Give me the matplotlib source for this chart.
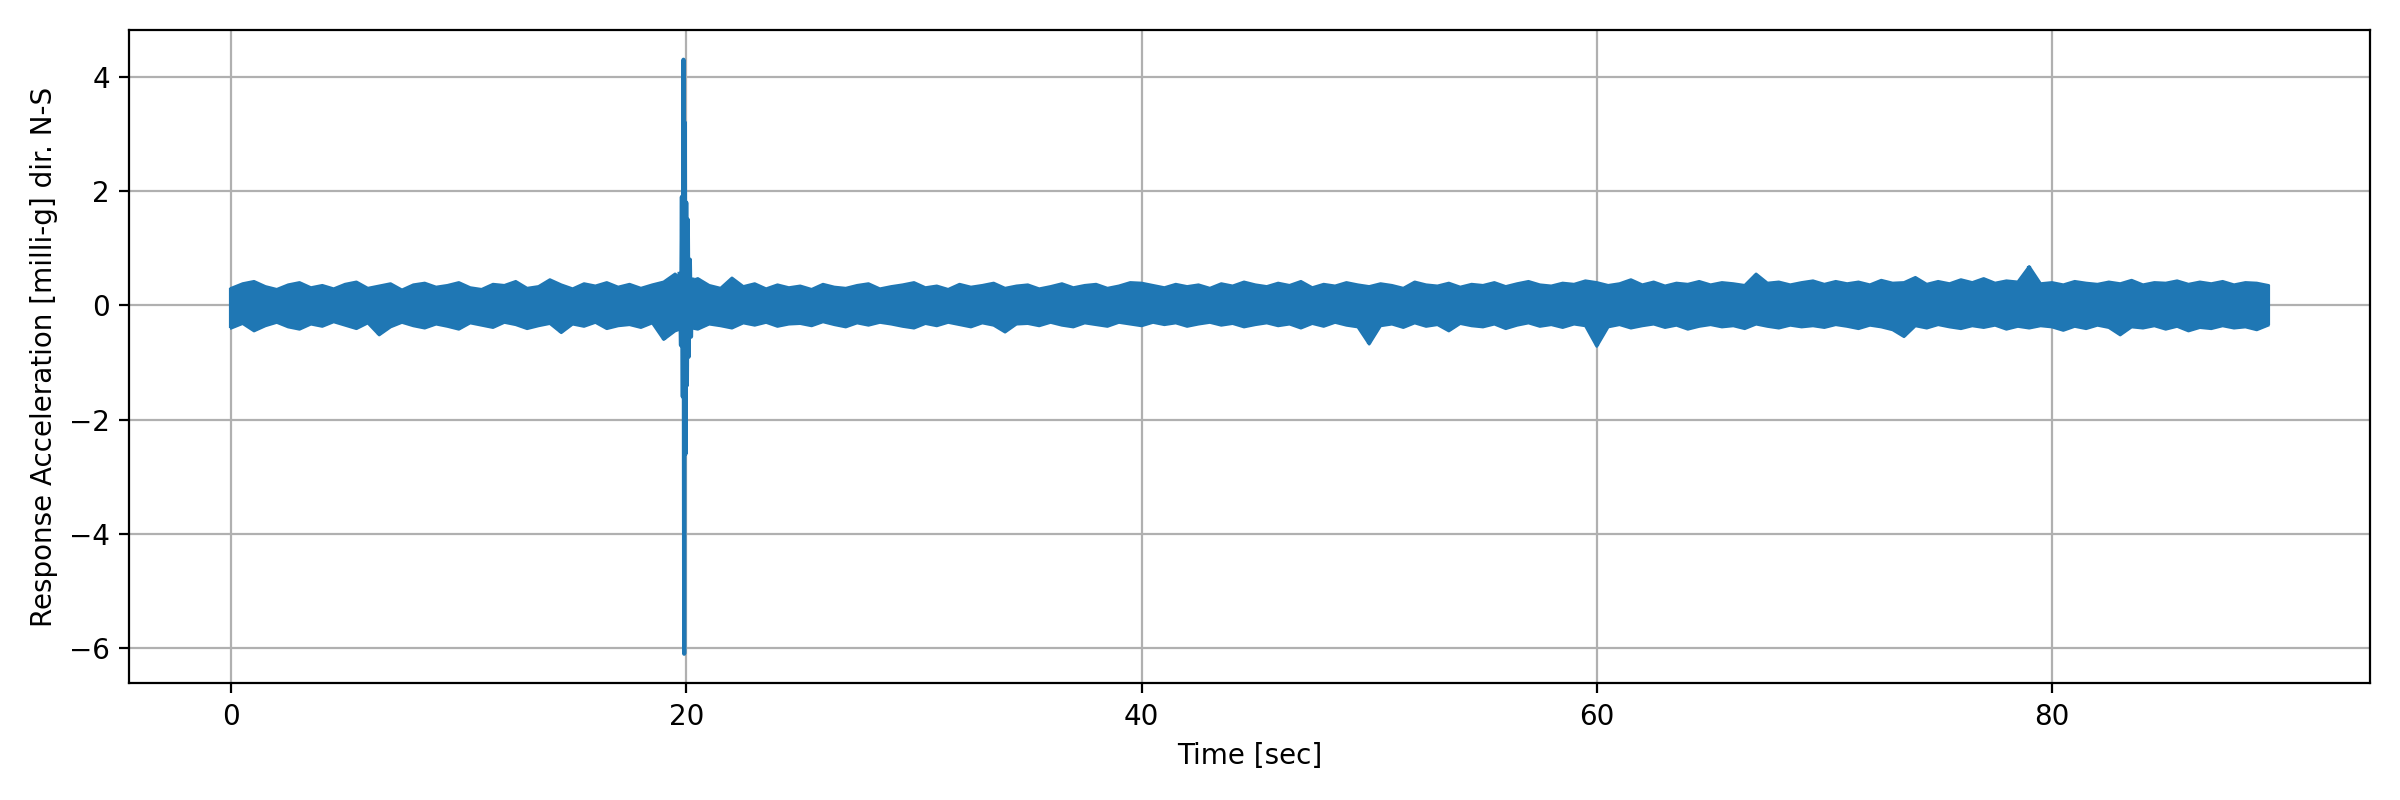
import numpy as np
import matplotlib.pyplot as plt

# upper and lower swings of the noise band, one pair every ~0.5 s from 0 to 89.5 s
highs = [
    0.30, 0.38, 0.42, 0.33, 0.28, 0.36, 0.40, 0.31, 0.35, 0.29,
    0.37, 0.41, 0.30, 0.34, 0.38, 0.27, 0.36, 0.39, 0.32, 0.35,
    0.40, 0.31, 0.28, 0.37, 0.35, 0.42, 0.30, 0.33, 0.45, 0.36,
    0.29, 0.38, 0.34, 0.40, 0.32, 0.37, 0.30, 0.36, 0.41, 0.55,
    0.40, 0.47, 0.35, 0.30, 0.48, 0.33, 0.38, 0.29, 0.36, 0.31,
    0.34, 0.28, 0.37, 0.32, 0.30, 0.35, 0.38, 0.29, 0.33, 0.36,
    0.40, 0.31, 0.34, 0.28, 0.37, 0.32, 0.35, 0.39, 0.30, 0.34,
    0.36, 0.29, 0.33, 0.38, 0.31, 0.35, 0.37, 0.30, 0.34, 0.40,
    0.39, 0.35, 0.31, 0.37, 0.33, 0.36, 0.30, 0.38, 0.34, 0.41,
    0.36, 0.33, 0.39, 0.35, 0.42, 0.31, 0.37, 0.34, 0.40, 0.36,
    0.33, 0.38, 0.35, 0.30, 0.41, 0.36, 0.34, 0.39, 0.32, 0.37,
    0.35, 0.40, 0.33, 0.38, 0.42, 0.36, 0.34, 0.39, 0.37, 0.43,
    0.40, 0.35, 0.38, 0.45, 0.36, 0.41, 0.34, 0.39, 0.37, 0.42,
    0.36, 0.40, 0.38, 0.35, 0.55, 0.39, 0.41, 0.36, 0.40, 0.43,
    0.37, 0.42, 0.38, 0.41, 0.36, 0.44, 0.39, 0.40, 0.49, 0.37,
    0.42, 0.38, 0.45, 0.40, 0.47, 0.39, 0.43, 0.41, 0.68, 0.38,
    0.40, 0.36, 0.42, 0.39, 0.37, 0.41, 0.38, 0.44, 0.36, 0.40,
    0.39, 0.43, 0.37, 0.41, 0.38, 0.42, 0.36, 0.40, 0.39, 0.35,
]
lows = [
    -0.40, -0.32, -0.45, -0.36, -0.30, -0.38, -0.42, -0.33, -0.37, -0.29,
    -0.35, -0.41, -0.31, -0.52, -0.38, -0.30, -0.36, -0.40, -0.33, -0.37,
    -0.42, -0.31, -0.35, -0.39, -0.30, -0.34, -0.41, -0.36, -0.32, -0.48,
    -0.33, -0.37, -0.30, -0.41, -0.36, -0.34, -0.39, -0.31, -0.60, -0.45,
    -0.38, -0.42, -0.33, -0.36, -0.40, -0.31, -0.35, -0.30, -0.37, -0.33,
    -0.32, -0.36, -0.29, -0.34, -0.38, -0.31, -0.35, -0.30, -0.33, -0.37,
    -0.40, -0.32, -0.36, -0.30, -0.34, -0.38, -0.31, -0.35, -0.47, -0.33,
    -0.32, -0.36, -0.30, -0.35, -0.38, -0.31, -0.34, -0.37, -0.30, -0.33,
    -0.36, -0.30, -0.34, -0.31, -0.37, -0.33, -0.30, -0.35, -0.32, -0.38,
    -0.34, -0.31, -0.36, -0.33, -0.40, -0.32, -0.37, -0.30, -0.35, -0.38,
    -0.68, -0.36, -0.33, -0.39, -0.31, -0.37, -0.34, -0.45, -0.32, -0.36,
    -0.38, -0.33, -0.41, -0.35, -0.31, -0.37, -0.34, -0.39, -0.33, -0.36,
    -0.72, -0.38, -0.34, -0.40, -0.36, -0.33, -0.39, -0.35, -0.42, -0.37,
    -0.34, -0.38, -0.36, -0.41, -0.33, -0.37, -0.40, -0.35, -0.38, -0.36,
    -0.39, -0.34, -0.37, -0.41, -0.35, -0.38, -0.43, -0.55, -0.36, -0.40,
    -0.34, -0.38, -0.41, -0.36, -0.39, -0.35, -0.42, -0.37, -0.40, -0.36,
    -0.38, -0.44, -0.37, -0.41, -0.35, -0.39, -0.52, -0.38, -0.40, -0.36,
    -0.42, -0.37, -0.45, -0.39, -0.41, -0.36, -0.40, -0.38, -0.43, -0.35,
]
# the burst around 20 s
spike_t = [19.70, 19.76, 19.80, 19.84, 19.87, 19.90, 19.93, 19.96, 19.99,
           20.02, 20.06, 20.10, 20.15, 20.20, 20.26]
spike_v = [0.55, -0.70, 1.90, -1.60, 4.30, -6.10, 3.20, -2.60, 1.80,
           -1.40, 1.50, -0.90, 0.80, -0.55, 0.45]

color = "#1f77b4"
t_pair = np.linspace(0, 89.5, len(highs))

fig, ax = plt.subplots(figsize=(12, 4), dpi=200)
ax.set_axisbelow(True)
ax.fill_between(t_pair, lows, highs, color=color, linewidth=0, zorder=2)
ax.vlines(t_pair, lows, highs, color=color, linewidth=1.5, zorder=2)
ax.plot(t_pair, highs, color=color, linewidth=1.0, zorder=2)
ax.plot(t_pair, lows, color=color, linewidth=1.0, zorder=2)
ax.plot(spike_t, spike_v, color=color, linewidth=1.5, zorder=2)
ax.set_xlabel("Time [sec]")
ax.set_ylabel("Response Acceleration [milli-g] dir. N-S")
ax.grid(True)
fig.tight_layout()
fig.savefig("out.png")
